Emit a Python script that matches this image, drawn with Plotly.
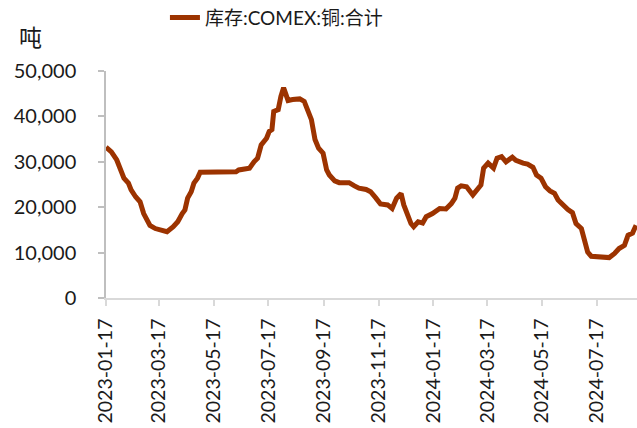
import plotly.graph_objects as go

series_name = "库存:COMEX:铜:合计"
unit_label = "吨"

dates = [
    "2023-01-17", "2023-01-20", "2023-01-23", "2023-01-29", "2023-02-02", "2023-02-06",
    "2023-02-11", "2023-02-14", "2023-02-19", "2023-02-24", "2023-02-28", "2023-03-03",
    "2023-03-07", "2023-03-13", "2023-03-20", "2023-03-26", "2023-04-02", "2023-04-07",
    "2023-04-12", "2023-04-15", "2023-04-18", "2023-04-22", "2023-04-25", "2023-04-29",
    "2023-05-02", "2023-05-15", "2023-05-30", "2023-06-11", "2023-06-14", "2023-06-22",
    "2023-06-26", "2023-07-01", "2023-07-05", "2023-07-09", "2023-07-15", "2023-07-18",
    "2023-07-21", "2023-07-23", "2023-07-28", "2023-07-31", "2023-08-03", "2023-08-05",
    "2023-08-08", "2023-08-13", "2023-08-21", "2023-08-26", "2023-08-29", "2023-09-03",
    "2023-09-07", "2023-09-11", "2023-09-16", "2023-09-20", "2023-09-23", "2023-09-29",
    "2023-10-04", "2023-10-15", "2023-10-21", "2023-10-26", "2023-11-03", "2023-11-08",
    "2023-11-14", "2023-11-19", "2023-11-27", "2023-12-02", "2023-12-07", "2023-12-12",
    "2023-12-15", "2023-12-19", "2023-12-23", "2023-12-26", "2023-12-31", "2024-01-05",
    "2024-01-09", "2024-01-16", "2024-01-24", "2024-01-31", "2024-02-06", "2024-02-10",
    "2024-02-13", "2024-02-17", "2024-02-23", "2024-03-01", "2024-03-05", "2024-03-10",
    "2024-03-13", "2024-03-18", "2024-03-24", "2024-03-28", "2024-04-02", "2024-04-07",
    "2024-04-14", "2024-04-18", "2024-04-26", "2024-05-01", "2024-05-07", "2024-05-11",
    "2024-05-16", "2024-05-21", "2024-05-26", "2024-05-31", "2024-06-04", "2024-06-09",
    "2024-06-15", "2024-06-20", "2024-06-24", "2024-06-30", "2024-07-03", "2024-07-07",
    "2024-07-11", "2024-07-20", "2024-07-31", "2024-08-06", "2024-08-11", "2024-08-17",
    "2024-08-21", "2024-08-26", "2024-08-30",
]

inventory = [
    33200, 32600, 32200, 30400, 28200, 26400,
    25300, 23800, 22300, 21200, 18600, 17200,
    16000, 15300, 14900, 14600, 15700, 16800,
    18600, 19400, 22000, 23400, 25300, 26400,
    27700, 27700, 27750, 27800, 28200, 28300,
    28600, 30000, 30800, 33700, 35200, 36700,
    37100, 41100, 41500, 44400, 46300, 45200,
    43500, 43700, 43850, 43300, 41900, 39300,
    34900, 33000, 31900, 28200, 27100, 25800,
    25400, 25400, 24700, 24200, 23900, 23400,
    22000, 20700, 20500, 19700, 22000, 23000,
    20500, 18300, 16400, 15700, 16800, 16500,
    17900, 18600, 19700, 19600, 20800, 22000,
    24200, 24700, 24500, 22700, 23800, 24900,
    28600, 29700, 28600, 30800, 31150, 30000,
    31000, 30300, 29700, 29500, 28800, 27100,
    26400, 24500, 23600, 23050, 21600, 20500,
    19500, 18800, 16400, 15300, 13100, 10100,
    9200, 9000, 8900, 9800, 10900, 11600,
    13800, 14300, 16000,
]

x_ticks = [
    "2023-01-17", "2023-03-17", "2023-05-17", "2023-07-17", "2023-09-17",
    "2023-11-17", "2024-01-17", "2024-03-17", "2024-05-17", "2024-07-17",
]
y_ticks = [0, 10000, 20000, 30000, 40000, 50000]

latin = "Lato, Noto Sans CJK SC, sans-serif"
txt = "#1a1a1a"

fig = go.Figure()
fig.add_trace(go.Scatter(
    x=dates, y=inventory, mode="lines", name=series_name,
    line=dict(color="#9c3300", width=5),
))

fig.update_layout(
    width=637, height=428, autosize=False,
    margin=dict(l=106, r=0, t=71, b=130, autoexpand=False),
    paper_bgcolor="white", plot_bgcolor="white",
    showlegend=True,
    legend=dict(
        orientation="h", x=0.111, xanchor="left", y=1.235, yanchor="middle",
        font=dict(family=latin, size=19, color=txt),
        bgcolor="rgba(0,0,0,0)", borderwidth=0,
    ),
    xaxis=dict(
        type="date", range=["2023-01-17", "2024-08-31"], automargin=False,
        tickmode="array", tickvals=x_ticks, ticktext=x_ticks,
        tickangle=-90, ticks="outside", ticklen=6, tickcolor="#D9D9D9", tickwidth=1.5,
        showline=True, linecolor="#D9D9D9", linewidth=1.5,
        showgrid=False, zeroline=False,
        tickfont=dict(family=latin, size=19.5, color=txt),
        ticklabelstandoff=5,
    ),
    yaxis=dict(
        range=[0, 50000], tickmode="array", tickvals=y_ticks, automargin=False,
        tickformat=",", ticks="outside", ticklen=6, tickcolor="#BFBFBF", tickwidth=1.5,
        showline=True, linecolor="#BFBFBF", linewidth=1.5,
        showgrid=False, zeroline=False,
        tickfont=dict(family=latin, size=20, color=txt),
        ticklabelstandoff=18,
    ),
    annotations=[dict(
        text=unit_label, xref="paper", yref="paper",
        x=-0.168, y=1.155, xanchor="left", yanchor="middle",
        showarrow=False, font=dict(family="Noto Sans CJK SC", size=23, color=txt),
    )],
)

# Remove the browser's default page margin so the figure fills the window exactly.
fig.write_html(
    "out.html",
    config={"displayModeBar": False},
    post_script="document.body.style.margin='0';document.body.style.overflow='hidden';",
)
